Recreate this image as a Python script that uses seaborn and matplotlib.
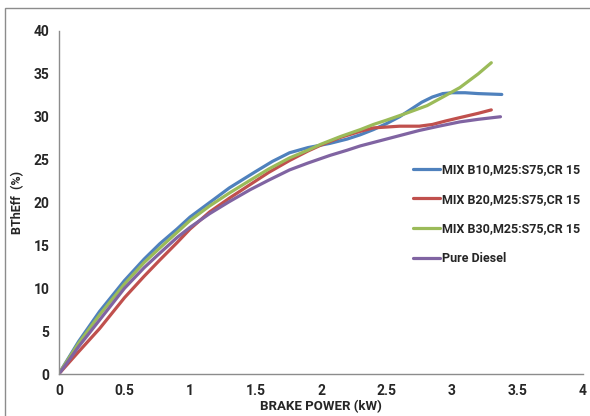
import numpy as np
import matplotlib.pyplot as plt
import seaborn as sns
import pandas as pd
from matplotlib.patches import Rectangle

# values
b10_x = [0.01, 0.15, 0.31, 0.5, 0.65, 0.77, 0.9, 1.0, 1.15, 1.3, 1.5, 1.63, 1.76, 1.9,
         2.07, 2.2, 2.3, 2.4, 2.5, 2.6, 2.68, 2.77, 2.85, 2.93, 3.0, 3.1, 3.2, 3.38]
b10_y = [0.3, 3.8, 7.3, 10.9, 13.4, 15.2, 16.9, 18.3, 20.0, 21.7, 23.6, 24.8, 25.8, 26.4,
         26.9, 27.4, 27.9, 28.5, 29.2, 30.0, 30.8, 31.7, 32.3, 32.7, 32.8, 32.8, 32.7, 32.6]

b20_x = [0.01, 0.15, 0.31, 0.5, 0.65, 0.77, 0.9, 1.0, 1.15, 1.3, 1.46, 1.6, 1.76, 1.9,
         2.0, 2.15, 2.3, 2.4, 2.5, 2.6, 2.75, 2.85, 2.95, 3.06, 3.2, 3.3]
b20_y = [0.2, 2.6, 5.3, 8.9, 11.4, 13.3, 15.3, 16.9, 18.9, 20.5, 22.1, 23.5, 24.9, 26.0,
         26.7, 27.6, 28.3, 28.7, 28.8, 28.9, 28.9, 29.1, 29.5, 29.9, 30.4, 30.8]

b30_x = [0.01, 0.15, 0.31, 0.5, 0.65, 0.77, 0.9, 1.0, 1.15, 1.3, 1.46, 1.6, 1.76, 1.9,
         2.0, 2.15, 2.3, 2.4, 2.5, 2.65, 2.81, 2.93, 3.06, 3.2, 3.3]
b30_y = [0.3, 3.6, 6.9, 10.5, 13.0, 14.7, 16.5, 17.9, 19.6, 21.1, 22.6, 23.9, 25.2, 26.1,
         26.8, 27.7, 28.5, 29.1, 29.6, 30.4, 31.3, 32.3, 33.4, 35.0, 36.3]

diesel_x = [0.01, 0.15, 0.31, 0.5, 0.65, 0.77, 0.9, 1.0, 1.15, 1.3, 1.46, 1.6, 1.76, 1.9,
            2.07, 2.2, 2.3, 2.4, 2.5, 2.75, 2.9, 3.06, 3.2, 3.37]
diesel_y = [0.2, 3.2, 6.3, 10.0, 12.4, 14.1, 15.9, 17.1, 18.7, 20.1, 21.5, 22.6, 23.8, 24.6,
            25.5, 26.1, 26.6, 27.0, 27.4, 28.4, 28.9, 29.4, 29.7, 30.0]

labels = ['MIX B10,M25:S75,CR 15', 'MIX B20,M25:S75,CR 15',
          'MIX B30,M25:S75,CR 15', 'Pure Diesel']
colors = ['#4F81BD', '#C0504D', '#9BBB59', '#8064A2']

frames = []
for lab, xs, ys in zip(labels, [b10_x, b20_x, b30_x, diesel_x], [b10_y, b20_y, b30_y, diesel_y]):
    frames.append(pd.DataFrame({'power': xs, 'eff': ys, 'fuel': lab}))
df = pd.concat(frames, ignore_index=True)

sns.set_style('white')
plt.rcParams['font.family'] = ['Roboto', 'DejaVu Sans']

fig = plt.figure(figsize=(5.9, 4.16), dpi=100)
ax = fig.add_axes([59 / 590, 1 - 374 / 416, 524 / 590, 343 / 416])

sns.lineplot(data=df, x='power', y='eff', hue='fuel', palette=colors,
             sort=False, lw=2.3, ax=ax, solid_joinstyle='round', solid_capstyle='round')

ax.set_xlim(0, 4)
ax.set_ylim(0, 40)
ax.set_xticks(np.arange(0, 4.01, 0.5))
ax.set_xticklabels(['0', '0.5', '1', '1.5', '2', '2.5', '3', '3.5', '4'])
ax.set_yticks(range(0, 41, 5))

for s in ['top', 'right']:
    ax.spines[s].set_visible(False)
for s in ['bottom', 'left']:
    ax.spines[s].set_color('#8c8c8c')
    ax.spines[s].set_linewidth(1.0)

ax.tick_params(axis='both', direction='out', length=4, width=1, color='#8c8c8c',
               labelsize=10, pad=3)
for t in ax.get_xticklabels() + ax.get_yticklabels():
    t.set_fontweight('bold')

ax.set_xlabel('BRAKE POWER (kW)', fontsize=9.5, weight='bold')
ax.xaxis.set_label_coords(0.5, -0.077)
ax.set_ylabel('BThEff  (%)', fontsize=9, weight='bold')
ax.yaxis.set_label_coords(-0.066, 0.5)

ax.legend(loc='center left', bbox_to_anchor=(0.663, 0.466), frameon=False,
          borderpad=0, handlelength=2.15, handletextpad=0.17, labelspacing=1.34,
          prop={'weight': 'bold', 'size': 9})

# outer chart-area border
fig.patches.append(Rectangle((5 / 590, -0.05), 1.2, 1 - 8 / 416 + 0.05,
                             transform=fig.transFigure, fill=False,
                             edgecolor='#8c8c8c', linewidth=1.0))

plt.savefig('out.png', dpi=100)
